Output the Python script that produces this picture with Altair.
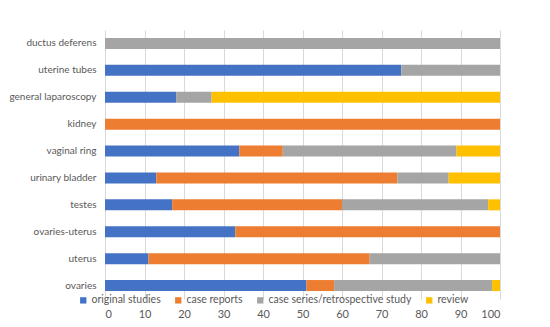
import altair as alt
import pandas as pd

categories = ["ductus deferens", "uterine tubes", "general laparoscopy", "kidney",
              "vaginal ring", "urinary bladder", "testes", "ovaries-uterus",
              "uterus", "ovaries"]
series = ["original studies", "case reports", "case series/retrospective study", "review"]
colors = ["#4472C4", "#ED7D31", "#A5A5A5", "#FFC000"]

original_studies = [0, 75, 18, 0, 34, 13, 17, 33, 11, 51]
case_reports = [0, 0, 0, 100, 11, 61, 43, 67, 56, 7]
case_series = [100, 25, 9, 0, 44, 13, 37, 0, 33, 40]
review = [0, 0, 73, 0, 11, 13, 3, 0, 0, 2]

rows = []
for i, c in enumerate(categories):
    for j, (s, vals) in enumerate(zip(series, [original_studies, case_reports, case_series, review])):
        rows.append({"category": c, "series": s, "value": vals[i], "order": j})
df = pd.DataFrame(rows)

FONT = "Lato"

chart = alt.Chart(df).mark_bar(size=11).encode(
    x=alt.X("value:Q", stack="zero",
            scale=alt.Scale(domain=[0, 100], nice=False),
            axis=alt.Axis(values=list(range(0, 101, 10)), title=None, ticks=False,
                          domain=False, grid=True, gridColor="#D9D9D9",
                          labelPadding=9, labelColor="#595959", labelFontSize=11,
                          labelFont=FONT)),
    y=alt.Y("category:N", sort=categories,
            scale=alt.Scale(paddingInner=0, paddingOuter=0),
            axis=alt.Axis(title=None, ticks=False, domain=False, grid=False,
                          labelPadding=9, labelColor="#595959", labelFontSize=10,
                          labelFont=FONT, labelLimit=200)),
    color=alt.Color("series:N", sort=series,
                    scale=alt.Scale(domain=series, range=colors),
                    legend=alt.Legend(title=None, orient="none", direction="horizontal",
                                      legendX=-27, legendY=265, symbolType="square",
                                      symbolSize=40, symbolStrokeWidth=0,
                                      labelColor="#595959", labelFontSize=10.5,
                                      labelFont=FONT, columnPadding=12, labelOffset=3)),
    order=alt.Order("order:Q"),
).properties(
    width=395, height=269,
    autosize=alt.AutoSizeParams(type="none"),
    padding={"left": 97, "top": 22, "right": 40, "bottom": 20},
).configure_view(stroke=None)

chart.save("out.html", embed_options={"renderer": "svg", "actions": False})
